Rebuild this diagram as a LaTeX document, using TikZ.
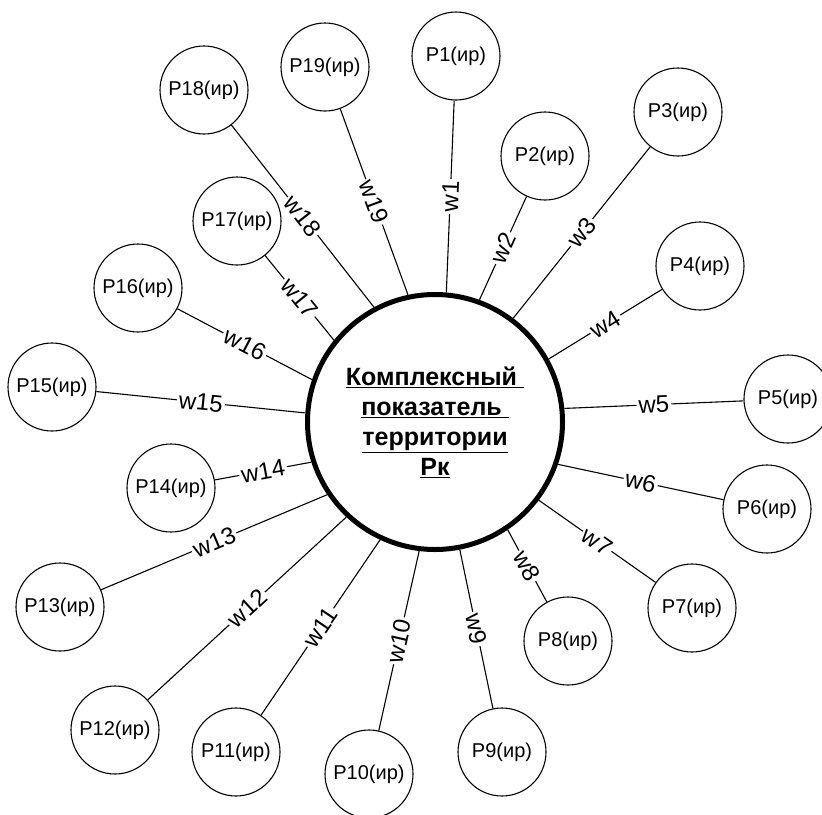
\documentclass[tikz,border=0pt]{standalone}
\usepackage{fontspec}
\setmainfont{Liberation Sans}
\begin{document}
\begin{tikzpicture}[x=1pt, y=-1pt]
    \tikzstyle{param}  = [shape=circle, draw, line width=1.1pt, minimum size=88pt, inner sep=0pt, font=\fontsize{20}{24}\selectfont]
    \tikzstyle{main}   = [shape=circle, draw, line width=5pt, minimum size=255pt, inner sep=0pt, align=center, font=\bfseries\fontsize{25}{30}\selectfont]
    \tikzstyle{link}   = [line width=1.1pt]
    \tikzstyle{weight} = [sloped, fill=white, inner sep=2pt, font=\fontsize{24}{28}\selectfont]

    \useasboundingbox (0, 0) rectangle (822, 814);

    \node[main] (pk) at (435, 422) {\underline{Комплексный\ }\\\underline{показатель\ }\\\underline{территории}\\\underline{Рк}};

        \node[param] (p1)  at (456, 56)  {P1(ир)};
        \node[param] (p2)  at (545, 156) {P2(ир)};
        \node[param] (p3)  at (678, 112) {P3(ир)};
        \node[param] (p4)  at (700, 266) {P4(ир)};
        \node[param] (p5)  at (788, 399) {P5(ир)};
        \node[param] (p6)  at (767, 509) {P6(ир)};
        \node[param] (p7)  at (692, 608) {P7(ир)};
        \node[param] (p8)  at (568, 641) {P8(ир)};
        \node[param] (p9)  at (502, 752) {P9(ир)};
        \node[param] (p10) at (369, 774) {P10(ир)};
        \node[param] (p11) at (236, 752) {P11(ир)};
        \node[param] (p12) at (115, 730) {P12(ир)};
        \node[param] (p13) at (60,  607) {P13(ир)};
        \node[param] (p14) at (171, 488) {P14(ир)};
        \node[param] (p15) at (52,  387) {P15(ир)};
        \node[param] (p16) at (138, 288) {P16(ир)};
        \node[param] (p17) at (237, 221) {P17(ир)};
        \node[param] (p18) at (204, 90)  {P18(ир)};
        \node[param] (p19) at (325, 67)  {P19(ир)};

        \draw[link] (pk.85.6)   -- node[weight] {w1}  (p1);
        \draw[link] (pk.70.2)   -- node[weight] {w2}  (p2);
        \draw[link] (pk.53.9)   -- node[weight] {w3}  (p3);
        \draw[link] (pk.29.9)   -- node[weight] {w4}  (p4);
        \draw[link] (pk.6.6)    -- node[weight] {w5}  (p5);
        \draw[link] (pk.-19.5)  -- node[weight] {w6}  (p6);
        \draw[link] (pk.-37.1)  -- node[weight] {w7}  (p7);
        \draw[link] (pk.-56.4)  -- node[weight] {w8}  (p8);
        \draw[link] (pk.-79.2)  -- node[weight] {w9}  (p9);
        \draw[link] (pk.-97.3)  -- node[weight] {w10} (p10);
        \draw[link] (pk.-115.6) -- node[weight] {w11} (p11);
        \draw[link] (pk.-133.2) -- node[weight] {w12} (p12);
        \draw[link] (pk.-146.5) -- node[weight] {w13} (p13);
        \draw[link] (pk.-162.5) -- node[weight] {w14} (p14);
        \draw[link] (pk.176.9)  -- node[weight] {w15} (p15);
        \draw[link] (pk.161)    -- node[weight] {w16} (p16);
        \draw[link] (pk.141.9)  -- node[weight] {w17} (p17);
        \draw[link] (pk.118.9)  -- node[weight] {w18} (p18);
        \draw[link] (pk.102.4)  -- node[weight] {w19} (p19);
\end{tikzpicture}
\end{document}
